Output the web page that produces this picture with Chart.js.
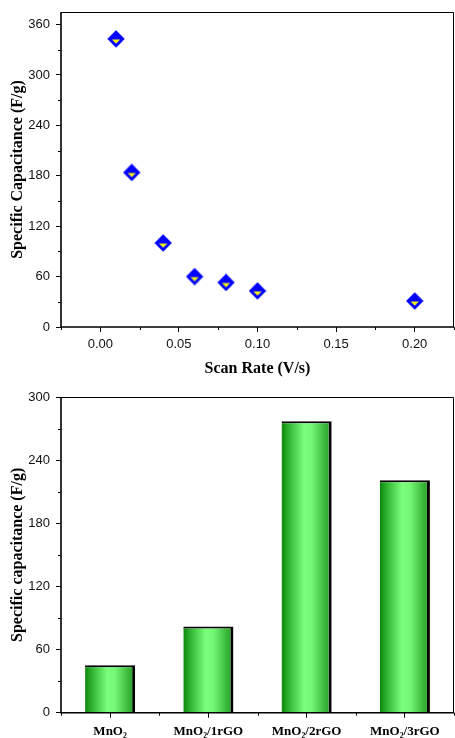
<!DOCTYPE html>
<html><head><meta charset="utf-8">
<script src="https://cdn.jsdelivr.net/npm/chart.js@4/dist/chart.umd.min.js"></script>
<style>html,body{margin:0;padding:0;background:#fff;} canvas{display:block;}</style>
</head><body>
<canvas id="c1" width="455" height="380"></canvas>
<canvas id="c2" width="455" height="358"></canvas>
<script>
// ---- data (top: scatter) ----
const scanRate = [0.01, 0.02, 0.04, 0.06, 0.08, 0.10, 0.20];
const capacitance = [343, 184, 100, 60, 53, 43, 31];
const scanTicks = [0, 0.05, 0.10, 0.15, 0.20];
const scanMinorTicks = [-0.025, 0.025, 0.075, 0.125, 0.175, 0.225];
const capTicksTop = [0, 60, 120, 180, 240, 300, 360];
const capMinorTop = [30, 90, 150, 210, 270, 330];
// ---- data (bottom: bars) ----
const samples = ['MnO₂', 'MnO₂/1rGO', 'MnO₂/2rGO', 'MnO₂/3rGO'];
const sampleCap = [45, 82, 277, 221];
const capTicksBottom = [0, 60, 120, 180, 240, 300];
const capMinorBottom = [30, 90, 150, 210, 270];
const sampleBoundaries = [-0.5, 0.5, 1.5, 2.5, 3.5];

const BAR_PCT = 0.51;
const tickFont = {family: "'Liberation Sans', Arial, sans-serif", size: 13};
const titleFont = {family: "'Liberation Serif', 'Times New Roman', serif", size: 16, weight: 'bold'};
const catFont = {family: "'Liberation Serif', 'Times New Roman', serif", size: 13, weight: 'bold'};

// marker: blue diamond with yellow lower triangle
function makeMarker() {
  const c = document.createElement('canvas');
  c.width = 18; c.height = 18;
  const g = c.getContext('2d');
  g.fillStyle = '#0000ff';
  g.beginPath();
  g.moveTo(9, 0.3); g.lineTo(17.7, 9); g.lineTo(9, 17.7); g.lineTo(0.3, 9); g.closePath();
  g.fill();
  g.fillStyle = '#f2f21e';
  g.beginPath();
  g.moveTo(4.8, 9.6); g.lineTo(13.2, 9.6); g.lineTo(9, 13.8); g.closePath();
  g.fill();
  return c;
}
const marker = makeMarker();

const framePlugin = {
  id: 'frameMinor',
  afterDraw(chart, args, opts) {
    const {ctx, chartArea: a, scales} = chart;
    ctx.save();
    ctx.strokeStyle = '#000';
    ctx.lineWidth = 1;
    (opts.minorX || []).forEach(v => {
      const x = Math.round(scales.x.getPixelForValue(v)) + 0.5;
      ctx.beginPath(); ctx.moveTo(x, a.bottom); ctx.lineTo(x, a.bottom + 3); ctx.stroke();
    });
    (opts.minorY || []).forEach(v => {
      const y = Math.round(scales.y.getPixelForValue(v)) + 0.5;
      ctx.beginPath(); ctx.moveTo(a.left, y); ctx.lineTo(a.left - 3, y); ctx.stroke();
    });
    ctx.lineWidth = 1;
    ctx.beginPath();
    ctx.moveTo(a.left, a.top + 0.5); ctx.lineTo(a.right - 0.5, a.top + 0.5); ctx.lineTo(a.right - 0.5, a.bottom);
    ctx.stroke();
    ctx.lineWidth = 1.6;
    ctx.beginPath();
    ctx.moveTo(a.left, a.top); ctx.lineTo(a.left, a.bottom); ctx.lineTo(a.right, a.bottom);
    ctx.stroke();
    ctx.restore();
  }
};

const gridOpts = {display: true, drawOnChartArea: false, drawTicks: true, tickLength: 5, color: '#000', lineWidth: 1};
const fitX = h => s => { s.height = h; s.paddingLeft = 0; s.paddingRight = 0; };
const fitY = w => s => { s.width = w; s.paddingTop = 0; s.paddingBottom = 0; };

new Chart(document.getElementById('c1'), {
  type: 'scatter',
  data: {
    datasets: [{
      data: scanRate.map((x, i) => ({x: x, y: capacitance[i]})),
      pointStyle: marker,
      pointRadius: 9,
      pointHoverRadius: 9,
      showLine: false,
      clip: false
    }]
  },
  options: {
    responsive: false,
    animation: false,
    events: [],
    layout: {autoPadding: false, padding: {top: 12, right: 1, left: 0, bottom: 0}},
    plugins: {legend: {display: false}, tooltip: {enabled: false},
      frameMinor: {minorX: scanMinorTicks, minorY: capMinorTop}},
    scales: {
      x: {
        type: 'linear', min: -0.025, max: 0.225,
        afterBuildTicks: s => { s.ticks = scanTicks.map(v => ({value: v})); },
        afterFit: fitX(53),
        grid: gridOpts,
        border: {display: false},
        ticks: {font: tickFont, color: '#111', padding: 5, maxRotation: 0, callback: v => Number(v).toFixed(2)},
        title: {display: true, text: 'Scan Rate (V/s)', font: titleFont, color: '#000', padding: {top: 0, bottom: 2}}
      },
      y: {
        type: 'linear', min: 0, max: 375,
        afterBuildTicks: s => { s.ticks = capTicksTop.map(v => ({value: v})); },
        afterFit: fitY(61),
        grid: gridOpts,
        border: {display: false},
        ticks: {font: tickFont, color: '#111', padding: 6},
        title: {display: true, text: 'Specific Capacitance (F/g)', font: titleFont, color: '#000', padding: {top: 8, bottom: 0}}
      }
    }
  },
  plugins: [framePlugin]
});

new Chart(document.getElementById('c2'), {
  type: 'bar',
  data: {
    labels: samples,
    datasets: [{
      data: sampleCap,
      barPercentage: BAR_PCT,
      categoryPercentage: 1,
      borderColor: '#000',
      borderWidth: {top: 2, right: 3, left: 0, bottom: 0},
      borderSkipped: false,
      backgroundColor: (c) => {
        const chart = c.chart;
        const xs = chart.scales && chart.scales.x;
        if (!xs || c.dataIndex === undefined || !isFinite(xs.width)) return '#55dd55';
        const cx = xs.getPixelForValue(c.dataIndex);
        const w = (xs.width / samples.length) * BAR_PCT;
        const g = chart.ctx.createLinearGradient(cx - w / 2, 0, cx + w / 2, 0);
        g.addColorStop(0, '#0d880d');
        g.addColorStop(0.2, '#3fc43f');
        g.addColorStop(0.45, '#7cff7c');
        g.addColorStop(0.6, '#74f874');
        g.addColorStop(0.85, '#3dba3d');
        g.addColorStop(1, '#259a25');
        return g;
      }
    }]
  },
  options: {
    responsive: false,
    animation: false,
    events: [],
    layout: {autoPadding: false, padding: {top: 17, right: 1, left: 0, bottom: 0}},
    plugins: {legend: {display: false}, tooltip: {enabled: false},
      frameMinor: {minorX: sampleBoundaries, minorY: capMinorBottom}},
    scales: {
      x: {
        type: 'category', offset: true,
        afterFit: fitX(25.3),
        grid: Object.assign({}, gridOpts, {offset: false}),
        border: {display: false},
        ticks: {font: catFont, color: '#000', padding: 6, maxRotation: 0, autoSkip: false}
      },
      y: {
        type: 'linear', min: 0, max: 300,
        afterBuildTicks: s => { s.ticks = capTicksBottom.map(v => ({value: v})); },
        afterFit: fitY(61),
        grid: gridOpts,
        border: {display: false},
        ticks: {font: tickFont, color: '#111', padding: 6},
        title: {display: true, text: 'Specific capacitance (F/g)', font: titleFont, color: '#000', padding: {top: 8, bottom: 0}}
      }
    }
  },
  plugins: [framePlugin]
});
</script>
</body></html>
